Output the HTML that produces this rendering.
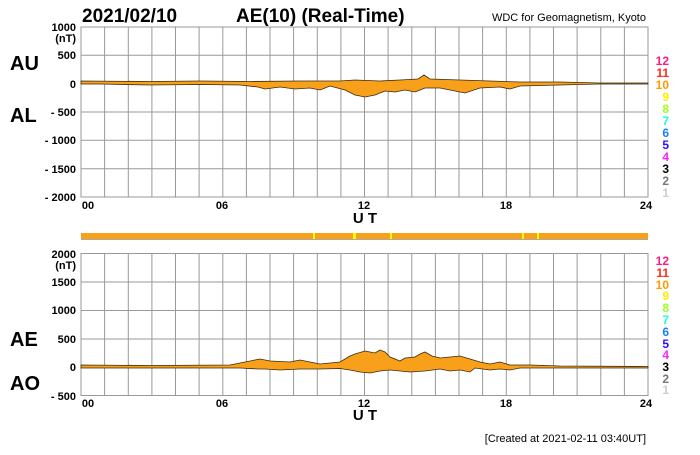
<!DOCTYPE html>
<html><head><style>
body{margin:0;background:#fff;}
svg text{font-family:"Liberation Sans",Arial,sans-serif;font-weight:bold;}
</style></head><body>
<svg width="700" height="450" xmlns="http://www.w3.org/2000/svg">
<rect width="700" height="450" fill="#fff"/>
<text x="82" y="22" font-size="19">2021/02/10</text>
<text x="236" y="22" font-size="19">AE(10) (Real-Time)</text>
<text x="646" y="21" font-size="11" text-anchor="end" style="font-weight:normal">WDC for Geomagnetism, Kyoto</text>
<g stroke="#999" stroke-width="1" fill="none">
<rect x="81" y="27" width="567" height="170"/>
<line x1="81" x2="648" y1="55.3" y2="55.3"/><line x1="81" x2="648" y1="83.7" y2="83.7"/><line x1="81" x2="648" y1="112" y2="112"/><line x1="81" x2="648" y1="140.3" y2="140.3"/><line x1="81" x2="648" y1="168.7" y2="168.7"/>
<line x1="81" x2="648" y1="282" y2="282"/><line x1="81" x2="648" y1="310.5" y2="310.5"/><line x1="81" x2="648" y1="339" y2="339"/><line x1="81" x2="648" y1="367.5" y2="367.5"/>
<rect x="81" y="253.5" width="567" height="142"/>
<path d="M104.6 27V197M128.3 27V197M151.9 27V197M175.5 27V197M199.1 27V197M222.8 27V197M246.4 27V197M270 27V197M293.6 27V197M317.3 27V197M340.9 27V197M364.5 27V197M388.1 27V197M411.8 27V197M435.4 27V197M459 27V197M482.6 27V197M506.3 27V197M529.9 27V197M553.5 27V197M577.1 27V197M600.8 27V197M624.4 27V197"/>
<path d="M104.6 253.5V395.5M128.3 253.5V395.5M151.9 253.5V395.5M175.5 253.5V395.5M199.1 253.5V395.5M222.8 253.5V395.5M246.4 253.5V395.5M270 253.5V395.5M293.6 253.5V395.5M317.3 253.5V395.5M340.9 253.5V395.5M364.5 253.5V395.5M388.1 253.5V395.5M411.8 253.5V395.5M435.4 253.5V395.5M459 253.5V395.5M482.6 253.5V395.5M506.3 253.5V395.5M529.9 253.5V395.5M553.5 253.5V395.5M577.1 253.5V395.5M600.8 253.5V395.5M624.4 253.5V395.5"/>
</g>
<polygon fill="#f9a01b" stroke="#3a2a10" stroke-width="0.8" points="81,81 150,81.5 200,81 250,81.5 300,81 340,81 355,80 380,81 400,80 418,79 424,75 430,79 460,80 490,81 520,82 560,82 600,83 648,83 648,84 600,84 560,85 520,86 510,89 500,87 480,88 465,93 455,91 440,88 425,88 415,92 405,90 395,92 385,91 375,95 365,97 355,95 345,90 330,86 320,90 310,88 295,89 280,87 265,89 258,87 240,85 200,84.5 150,85 100,84 81,84"/>
<polygon fill="#f9a01b" stroke="#3a2a10" stroke-width="0.8" points="81,365 150,365.5 230,365 260,359 270,361 290,362 300,360 310,362 320,364 340,362 350,356 355,354 365,351 375,353 380,350 385,352 390,357 400,361 405,358 415,357 420,354 425,352 432,356 440,358 450,357 460,356 470,359 480,362 490,364 500,362 510,365 530,365 560,366 648,366.5 648,368 560,368 520,368 510,370 500,369 490,370 475,368 470,372 460,370 450,371 440,369 425,371 410,372 400,371 390,370 380,371 370,373 360,372 350,370 340,368.5 320,369 300,369 280,370 265,369 258,369 240,368 200,368 81,368"/>
<rect x="81" y="233" width="567" height="6" fill="#f9a01b"/>
<line x1="81" x2="648" y1="239.5" y2="239.5" stroke="#aaa"/>
<g fill="#ff0">
<rect x="313" y="233" width="2" height="6"/><rect x="353" y="233" width="3" height="6"/><rect x="390" y="233" width="2" height="6"/><rect x="522" y="233" width="2" height="6"/><rect x="537" y="233" width="2" height="6"/>
</g>
<g font-size="11" text-anchor="end">
<text x="76" y="31">1000</text><text x="76" y="42">(nT)</text><text x="76" y="59">500</text><text x="76" y="88">0</text><text x="76" y="116">- 500</text><text x="76" y="144">- 1000</text><text x="76" y="173">- 1500</text><text x="76" y="201">- 2000</text>
<text x="76" y="258">2000</text><text x="76" y="269">(nT)</text><text x="76" y="286">1500</text><text x="76" y="314">1000</text><text x="76" y="343">500</text><text x="76" y="371">0</text><text x="76" y="400">- 500</text>
</g>
<g font-size="20"><text x="10" y="70">AU</text><text x="10" y="122">AL</text><text x="10" y="346">AE</text><text x="10" y="390">AO</text></g>
<g font-size="11" text-anchor="middle">
<text x="88" y="209">00</text><text x="222" y="209">06</text><text x="364" y="209">12</text><text x="506" y="209">18</text><text x="646" y="209">24</text>
<text x="88" y="407">00</text><text x="222" y="407">06</text><text x="364" y="407">12</text><text x="506" y="407">18</text><text x="646" y="407">24</text>
</g>
<g font-size="15" text-anchor="middle"><text x="365" y="223">U T</text><text x="365" y="420">U T</text></g>
<text x="646" y="442" font-size="11" text-anchor="end" style="font-weight:normal">[Created at 2021-02-11 03:40UT]</text>
<g font-size="12" text-anchor="end">
<text x="669" y="65" fill="#ff1a80">12</text><text x="669" y="77" fill="#ff2a1a">11</text><text x="669" y="89" fill="#ff9a00">10</text><text x="669" y="101" fill="#ffee00">9</text><text x="669" y="113" fill="#a0ff20">8</text><text x="669" y="125" fill="#20ffd0">7</text><text x="669" y="137" fill="#1a80ff">6</text><text x="669" y="149" fill="#2a10ff">5</text><text x="669" y="161" fill="#ff20ff">4</text><text x="669" y="173" fill="#000">3</text><text x="669" y="185" fill="#777">2</text><text x="669" y="197" fill="#ccc">1</text>
<text x="669" y="265" fill="#ff1a80">12</text><text x="669" y="277" fill="#ff2a1a">11</text><text x="669" y="289" fill="#ff9a00">10</text><text x="669" y="300" fill="#ffee00">9</text><text x="669" y="312" fill="#a0ff20">8</text><text x="669" y="324" fill="#20ffd0">7</text><text x="669" y="336" fill="#1a80ff">6</text><text x="669" y="348" fill="#2a10ff">5</text><text x="669" y="359" fill="#ff20ff">4</text><text x="669" y="371" fill="#000">3</text><text x="669" y="383" fill="#777">2</text><text x="669" y="394" fill="#ccc">1</text>
</g>
</svg>
</body></html>
